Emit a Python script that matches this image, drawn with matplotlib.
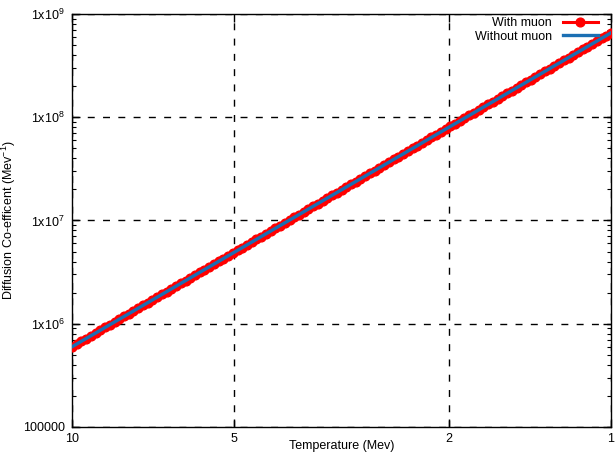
import numpy as np
import matplotlib
matplotlib.use('Agg')
import matplotlib.pyplot as plt
from matplotlib.ticker import FixedLocator, FuncFormatter, LogLocator, NullLocator

# temperature (Mev)
temperature = [
    10.00, 9.800, 9.604, 9.412, 9.224, 9.039, 8.858, 8.681, 8.508, 8.337,
    8.171, 8.007, 7.847, 7.690, 7.536, 7.386, 7.238, 7.093, 6.951, 6.812,
    6.676, 6.543, 6.412, 6.283, 6.158, 6.035, 5.914, 5.796, 5.680, 5.566,
    5.455, 5.346, 5.239, 5.134, 5.031, 4.931, 4.832, 4.735, 4.641, 4.548,
    4.457, 4.368, 4.280, 4.195, 4.111, 4.029, 3.948, 3.869, 3.792, 3.716,
    3.642, 3.569, 3.497, 3.428, 3.359, 3.292, 3.226, 3.161, 3.098, 3.036,
    2.976, 2.916, 2.858, 2.801, 2.745, 2.690, 2.636, 2.583, 2.532, 2.481,
    2.431, 2.383, 2.335, 2.288, 2.243, 2.198, 2.154, 2.111, 2.069, 2.027,
    1.987, 1.947, 1.908, 1.870, 1.832, 1.796, 1.760, 1.725, 1.690, 1.656,
    1.623, 1.591, 1.559, 1.528, 1.497, 1.467, 1.438, 1.409, 1.381, 1.353,
    1.326, 1.300, 1.274, 1.248, 1.223, 1.199, 1.175, 1.151, 1.128, 1.106,
    1.084, 1.062, 1.041, 1.020, 1.000,
]

# diffusion co-efficient (Mev^-1) with muon
d_with_muon = [
    5.98e5, 6.36e5, 6.77e5, 7.19e5, 7.65e5, 8.13e5, 8.65e5, 9.20e5, 9.78e5, 1.04e6,
    1.106e6, 1.176e6, 1.250e6, 1.329e6, 1.414e6, 1.503e6, 1.598e6, 1.700e6, 1.807e6, 1.922e6,
    2.044e6, 2.173e6, 2.311e6, 2.457e6, 2.613e6, 2.778e6, 2.954e6, 3.141e6, 3.340e6, 3.552e6,
    3.777e6, 4.016e6, 4.270e6, 4.541e6, 4.829e6, 5.135e6, 5.460e6, 5.806e6, 6.174e6, 6.565e6,
    6.981e6, 7.423e6, 7.894e6, 8.394e6, 8.925e6, 9.491e6, 1.009e7, 1.073e7, 1.141e7, 1.213e7,
    1.290e7, 1.372e7, 1.459e7, 1.551e7, 1.649e7, 1.754e7, 1.865e7, 1.983e7, 2.109e7, 2.242e7,
    2.384e7, 2.535e7, 2.696e7, 2.867e7, 3.048e7, 3.241e7, 3.447e7, 3.665e7, 3.897e7, 4.144e7,
    4.407e7, 4.686e7, 4.983e7, 5.298e7, 5.634e7, 5.991e7, 6.370e7, 6.774e7, 7.203e7, 7.659e7,
    8.144e7, 8.660e7, 9.209e7, 9.792e7, 1.041e8, 1.107e8, 1.177e8, 1.252e8, 1.331e8, 1.416e8,
    1.505e8, 1.601e8, 1.702e8, 1.810e8, 1.924e8, 2.046e8, 2.176e8, 2.314e8, 2.460e8, 2.616e8,
    2.782e8, 2.958e8, 3.145e8, 3.344e8, 3.556e8, 3.781e8, 4.021e8, 4.276e8, 4.546e8, 4.834e8,
    5.140e8, 5.466e8, 5.812e8, 6.180e8, 6.572e8,
]

# without muon the curve sits on top of the muon one
d_without_muon = list(d_with_muon)

x_ticks = [10, 5, 2, 1]
y_ticks = [1e5, 1e6, 1e7, 1e8, 1e9]

plt.rcParams['font.family'] = ['Liberation Sans', 'DejaVu Sans']
plt.rcParams['font.size'] = 9
plt.rcParams['mathtext.fontset'] = 'custom'
plt.rcParams['mathtext.rm'] = 'Liberation Sans'
plt.rcParams['mathtext.it'] = 'Liberation Sans'

fig = plt.figure(figsize=(6.16, 4.54), dpi=100)
ax = fig.add_axes([0.1169, 0.0595, 0.8750, 0.9097])

ax.plot(temperature, d_with_muon, color='#ff0000', lw=2.2, marker='o', ms=6.3,
        mfc='#ff0000', mec='#ff0000', label='With muon', zorder=3)
ax.plot(temperature, d_without_muon, color='#1b6fb3', lw=2.4,
        label='Without muon', zorder=4)

ax.set_xscale('log')
ax.set_yscale('log')
ax.set_xlim(10, 1)
ax.set_ylim(1e5, 1e9)

ax.xaxis.set_major_locator(FixedLocator(x_ticks))
ax.xaxis.set_minor_locator(NullLocator())
ax.xaxis.set_major_formatter(FuncFormatter(lambda v, p: '%g' % v))
ax.yaxis.set_major_locator(FixedLocator(y_ticks))
ax.yaxis.set_minor_locator(LogLocator(base=10, subs=np.arange(2, 10), numticks=20))


def y_fmt(v, pos):
    e = int(round(np.log10(v)))
    if e == 5:
        return '100000'
    return r'1x10$^{%d}$' % e


ax.yaxis.set_major_formatter(FuncFormatter(y_fmt))

ax.tick_params(which='both', direction='in', top=True, right=True, color='black')
ax.tick_params(which='major', length=6, width=1, pad=5)
ax.tick_params(which='minor', length=3, width=0.8)
ax.tick_params(axis='x', pad=4)

for sp in ax.spines.values():
    sp.set_linewidth(1.0)

ax.grid(True, which='major', color='black', ls=(0, (5, 6)), lw=1.0)

ax.set_xlabel('Temperature (Mev)', labelpad=-3)
ax.set_ylabel('Diffusion Co-efficent (Mev$^{\\mathrm{-1}}$)', labelpad=4)

leg = ax.legend(loc='upper right', bbox_to_anchor=(0.985, 1.005),
                markerfirst=False, frameon=False,
                handlelength=2.8, borderaxespad=0.0, labelspacing=0.15,
                handletextpad=0.9, fontsize=9)
for t in leg.get_texts():
    t.set_ha('right')

fig.savefig('out.png', dpi=100)
